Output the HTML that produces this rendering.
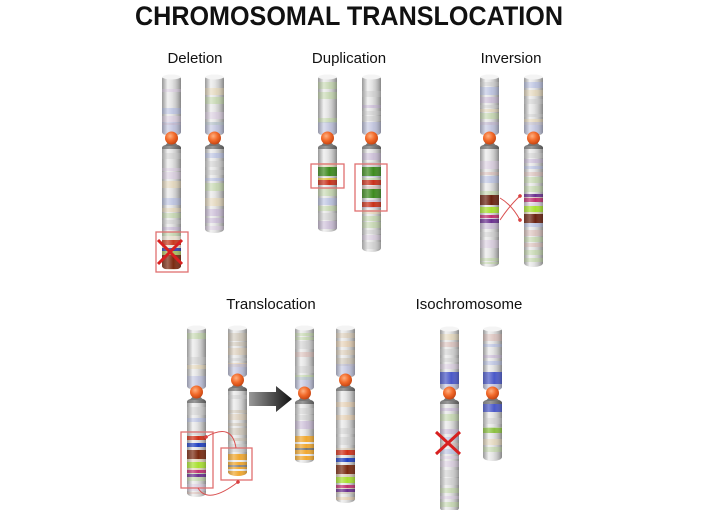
<!DOCTYPE html>
<html><head><meta charset="utf-8"><style>
html,body{margin:0;padding:0;background:#fff;width:701px;height:510px;overflow:hidden}
svg{display:block}
</style></head><body>
<svg id="s" width="701" height="510" viewBox="0 0 701 510" xmlns="http://www.w3.org/2000/svg">
<defs>
<linearGradient id="body" x1="0" x2="1" y1="0" y2="0">
<stop offset="0" stop-color="#b4b4b4"/><stop offset="0.3" stop-color="#ececec"/><stop offset="0.55" stop-color="#e0e0e0"/><stop offset="1" stop-color="#a8a8a8"/></linearGradient>
<linearGradient id="shade" x1="0" x2="1" y1="0" y2="0">
<stop offset="0" stop-color="#555" stop-opacity="0.3"/><stop offset="0.3" stop-color="#fff" stop-opacity="0.3"/><stop offset="0.6" stop-color="#fff" stop-opacity="0"/><stop offset="1" stop-color="#333" stop-opacity="0.3"/></linearGradient>
<linearGradient id="cap" x1="0" x2="1"><stop offset="0" stop-color="#777"/><stop offset="0.4" stop-color="#9a9a9a"/><stop offset="1" stop-color="#555"/></linearGradient>
<radialGradient id="cen" cx="0.4" cy="0.35" r="0.7"><stop offset="0" stop-color="#ffb080"/><stop offset="0.5" stop-color="#f26a2a"/><stop offset="1" stop-color="#c0400f"/></radialGradient>
<linearGradient id="arr" x1="0" x2="1"><stop offset="0" stop-color="#999"/><stop offset="1" stop-color="#111"/></linearGradient>
<marker id="ah" markerWidth="6" markerHeight="6" refX="3" refY="3" orient="auto"><circle cx="3" cy="3" r="1.8" fill="#d94040"/></marker>
</defs>
<g font-family="Liberation Sans, sans-serif" fill="#111" text-anchor="middle">
<text x="349" y="25" font-size="27" font-weight="bold" textLength="428" lengthAdjust="spacingAndGlyphs">CHROMOSOMAL TRANSLOCATION</text>
<text x="195" y="63" font-size="15">Deletion</text>
<text x="349" y="63" font-size="15">Duplication</text>
<text x="511" y="63" font-size="15">Inversion</text>
<text x="271" y="309" font-size="15">Translocation</text>
<text x="469" y="309" font-size="15">Isochromosome</text>
</g>
<g id="c"></g>
</svg>
<script>
var g=document.getElementById('c');var out='';
var pal=['#b9d39a','#c2aed3','#d9b4ad','#aab5e3','#e6d3ac','#c9c9c9','#d7c6e0','#b9d39a'];
var orp=['#e8c8a0','#d9c4a8','#c8c8c8','#e0d0b8','#c8bca8'];
function seed(n){return function(){n=(n*9301+49297)%233280;return n/233280;}}
function arm(x,y1,y2,w,r,p,rnd){var s='',y=y1+3;while(y<y2-3){var h=3+Math.floor(rnd()*6);if(rnd()<0.8)s+='<rect x="'+x+'" y="'+y+'" width="'+w+'" height="'+Math.min(h,y2-3-y)+'" fill="'+p[Math.floor(rnd()*p.length)]+'" opacity="0.6"/>';y+=h+1+Math.floor(rnd()*3);}return s;}
function chrom(x,top,cen,bot,sd,p,extra,w){w=w||19;var rnd=seed(sd);p=p||pal;var s='';
var cid='cl'+sd;
s+='<clipPath id="'+cid+'a"><rect x="'+x+'" y="'+top+'" width="'+w+'" height="'+(cen-2-top)+'" rx="'+(w/2)+'" ry="4"/></clipPath>';
s+='<clipPath id="'+cid+'b"><rect x="'+x+'" y="'+(cen+6)+'" width="'+w+'" height="'+(bot-cen-6)+'" rx="'+(w/2)+'" ry="4"/></clipPath>';
s+='<g clip-path="url(#'+cid+'a)"><rect x="'+x+'" y="'+top+'" width="'+w+'" height="'+(cen-top)+'" fill="url(#body)"/>'+arm(x,top+4,cen-10,w,0,p,rnd);
s+='<rect x="'+x+'" y="'+(cen-16)+'" width="'+w+'" height="12" fill="#aab0e0" opacity="0.5"/>';
s+=(extra&&extra.up||'')+'<rect x="'+x+'" y="'+top+'" width="'+w+'" height="'+(cen-top)+'" fill="url(#shade)"/></g>';
s+='<ellipse cx="'+(x+w/2)+'" cy="'+(top+2)+'" rx="'+(w/2-0.5)+'" ry="2.5" fill="#f4f4f4"/>';
s+='<g clip-path="url(#'+cid+'b)"><rect x="'+x+'" y="'+cen+'" width="'+w+'" height="'+(bot-cen)+'" fill="url(#body)"/>'+arm(x,cen+12,bot,w,0,p,rnd);
s+=(extra&&extra.lo||'')+'<rect x="'+x+'" y="'+cen+'" width="'+w+'" height="'+(bot-cen)+'" fill="url(#shade)"/>';
s+='<rect x="'+x+'" y="'+(cen+4)+'" width="'+w+'" height="7" fill="url(#cap)"/></g>';
s+='<path d="M'+(x+3)+' '+(cen+8)+' Q'+(x+w/2)+' '+(cen-2)+' '+(x+w-3)+' '+(cen+8)+'Z" fill="#777"/>';
s+='<circle cx="'+(x+w/2)+'" cy="'+cen+'" r="6.5" fill="url(#cen)"/>';
out+=s;}
function B(x,y,h,c,w){return '<rect x="'+x+'" y="'+y+'" width="'+(w||19)+'" height="'+h+'" fill="'+c+'"/>';}
chrom(162,75,138,270,11,null,{lo:B(162,236,34,'#e8e0d0')+B(162,240,5,'#c83a20')+B(162,248,3,'#3040b0')+B(162,251,4,'#a8c060')+B(162,255,14,'#7a2a10')});
chrom(205,75,138,233,23);
chrom(318,75,138,232,37,null,{lo:B(318,167,9,'#3d8a1e')+B(318,180,5,'#c8301a')+B(318,178,2,'#e0c040')});
chrom(362,75,138,252,41,null,{lo:B(362,167,9,'#3d8a1e')+B(362,180,5,'#c8301a')+B(362,189,9,'#3d8a1e')+B(362,202,5,'#c8301a')});
chrom(480,75,138,267,53,null,{lo:B(480,195,10,'#6a2210')+B(480,207,6,'#a8e030')+B(480,215,3,'#c03070')+B(480,219,4,'#6a3090')});
chrom(524,75,138,267,59,null,{lo:B(524,194,3,'#6a3090')+B(524,198,4,'#c03070')+B(524,206,6,'#a8e030')+B(524,214,9,'#6a2210')});
chrom(187,326,392,497,61,null,{lo:B(187,436,4,'#d03018')+B(187,443,4,'#2040c0')+B(187,450,9,'#7a2a10')+B(187,462,6,'#a8e030')+B(187,470,3,'#c03070')+B(187,474,3,'#6a3090')});
chrom(228,326,380,476,67,orp,{lo:B(228,454,22,'#f0a830')+B(228,460,2,'#eee')+B(228,465,2,'#888')+B(228,469,2,'#eee')});
chrom(295,326,393,463,71,null,{lo:B(295,436,24,'#f0a830')+B(295,442,2,'#eee')+B(295,448,2,'#777')+B(295,454,2,'#eee')});
chrom(336,326,380,503,79,orp,{lo:B(336,450,5,'#d03018')+B(336,458,4,'#2040c0')+B(336,465,9,'#7a2a10')+B(336,477,6,'#a8e030')+B(336,485,3,'#c03070')+B(336,489,3,'#6a3090')});
chrom(440,327,393,512,83,null,{up:B(440,372,12,'#4a58c8')});
chrom(483,327,393,461,89,null,{up:B(483,372,12,'#4a58c8'),lo:B(483,402,10,'#4a58c8')+B(483,428,5,'#8ac040')});
var r='stroke="#e07070" stroke-width="1.3" fill="none"';
out+='<rect x="156" y="232" width="32" height="40" '+r+'/>';
out+='<rect x="311" y="164" width="33" height="24" '+r+'/>';
out+='<rect x="355" y="164" width="32" height="47" '+r+'/>';
out+='<rect x="181" y="432" width="32" height="56" '+r+'/>';
out+='<rect x="221" y="448" width="31" height="32" '+r+'/>';
out+='<path d="M158 240 L182 264 M182 240 L158 264" stroke="#d82020" stroke-width="3"/>';
out+='<path d="M436 432 L460 454 M460 432 L436 454" stroke="#d82020" stroke-width="3"/>';
var a='stroke="#d95050" stroke-width="1" fill="none" marker-end="url(#ah)"';
out+='<path d="M500 198 Q512 205 520 220" '+a+'/><path d="M500 220 Q510 205 520 196" '+a+'/>';
out+='<path d="M236 448 Q232 422 206 437" '+a+'/>';
out+='<path d="M198 488 Q208 505 238 482" '+a+'/>';
out+='<path d="M249 392 L276 392 L276 386 L292 399 L276 412 L276 406 L249 406 Z" fill="url(#arr)"/>';
g.innerHTML=out;
</script>
</body></html>
